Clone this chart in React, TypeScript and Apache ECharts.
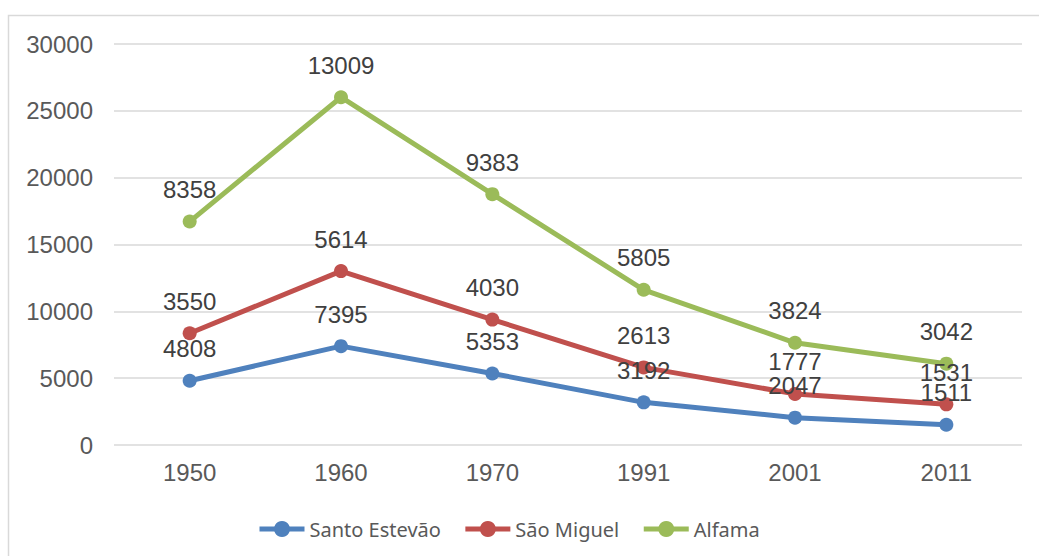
import React, { useEffect, useRef } from "react";
import * as echarts from "echarts";

const years = ["1950", "1960", "1970", "1991", "2001", "2011"];
const santoEstevao = [4808, 7395, 5353, 3192, 2047, 1511];
const saoMiguel = [3550, 5614, 4030, 2613, 1777, 1531];
const alfama = [8358, 13009, 9383, 5805, 3824, 3042];

const seriesNames = ["Santo Estevão", "São Miguel", "Alfama"];
const seriesColors = ["#4f81bd", "#c0504d", "#9bbb59"];
const seriesData = [santoEstevao, saoMiguel, alfama];

export default function App() {
  const ref = useRef<HTMLDivElement>(null);
  useEffect(() => {
    document.body.style.margin = "0";
    const chart = echarts.init(ref.current!, null, { renderer: "svg" });
    chart.setOption({
      animation: false,
      backgroundColor: "#ffffff",
      graphic: [
        {
          type: "rect",
          silent: true,
          shape: { x: 8.5, y: 15.5, width: 1100, height: 600 },
          style: { fill: "none", stroke: "#d9d9d9", lineWidth: 1.5 },
        },
      ],
      grid: { left: 114, right: 17, top: 44, bottom: 111 },
      legend: {
        left: 252,
        top: 514,
        itemWidth: 45,
        itemHeight: 20,
        itemGap: 22,
        lineStyle: { width: 5 },
        textStyle: { fontFamily: "Noto Sans", fontSize: 20, color: "#595959" },
        data: seriesNames,
      },
      xAxis: {
        type: "category",
        data: years,
        axisLine: { show: false },
        axisTick: { show: false },
        axisLabel: { color: "#595959", fontFamily: "Liberation Sans", fontSize: 24, margin: 15 },
      },
      yAxis: {
        type: "value",
        min: 0,
        max: 30000,
        interval: 5000,
        axisLine: { show: false },
        axisTick: { show: false },
        axisLabel: {
          color: "#595959",
          fontFamily: "Liberation Sans",
          fontSize: 24,
          margin: 21,
          formatter: (v: number) => String(v),
        },
        splitLine: { lineStyle: { color: "#d9d9d9", width: 1.5 } },
      },
      series: seriesNames.map((name, i) => ({
        name,
        type: "line",
        stack: "total",
        data: seriesData[i],
        symbol: "circle",
        symbolSize: 14,
        color: seriesColors[i],
        lineStyle: { width: 5, color: seriesColors[i] },
        itemStyle: { color: seriesColors[i] },
        label: {
          show: true,
          position: "top",
          distance: 13,
          color: "#404040",
          fontFamily: "Liberation Sans",
          fontSize: 24,
        },
      })),
    });
    return () => chart.dispose();
  }, []);
  return <div ref={ref} style={{ width: 1039, height: 556 }} />;
}
